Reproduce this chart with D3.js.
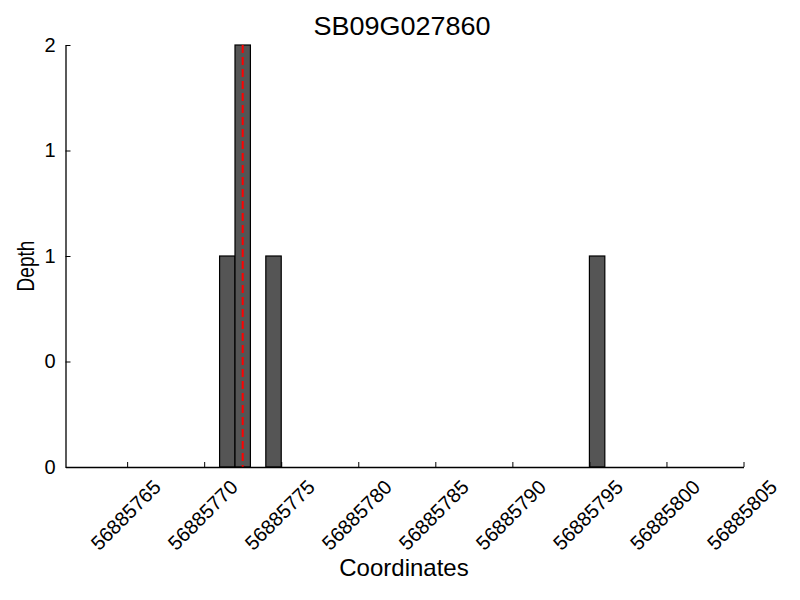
<!DOCTYPE html>
<html>
<head>
<meta charset="utf-8">
<script src="https://cdn.jsdelivr.net/npm/d3@7"></script>
<style>
  body { margin: 0; background: #fff; }
  svg { display: block; }
  text { font-family: "Liberation Sans", Arial, Helvetica, sans-serif; fill: #000; }
</style>
</head>
<body>
<svg id="chart" width="800" height="600"></svg>
<script>
// ---- data ----
const title = "SB09G027860";
const positions = [56885771, 56885772, 56885774, 56885795];
const depths = [1, 2, 1, 1];
const markerPosition = 56885772.5;
const xDomain = [56885761, 56885805];
const xTickValues = [56885765, 56885770, 56885775, 56885780, 56885785, 56885790, 56885795, 56885800, 56885805];
const yTickValues = [0, 0.5, 1, 1.5, 2];
const yTickLabels = ["0", "0", "1", "1", "2"];
const xLabel = "Coordinates";
const yLabel = "Depth";

// ---- layout ----
const svg = d3.select("#chart");
const margin = { left: 65.5, right: 800 - 743.5, top: 45, bottom: 600 - 467 };
const x = d3.scaleLinear().domain(xDomain).range([margin.left, 800 - margin.right]);
const y = d3.scaleLinear().domain([0, 2]).range([600 - margin.bottom, margin.top]);

// bars
svg.append("g").selectAll("rect")
  .data(positions.map((p, i) => ({ p, d: depths[i] })))
  .join("rect")
  .attr("x", d => x(d.p))
  .attr("width", d => x(d.p + 1) - x(d.p))
  .attr("y", d => y(d.d))
  .attr("height", d => y(0) - y(d.d))
  .attr("fill", "#555555")
  .attr("stroke", "#000")
  .attr("stroke-width", 1.2);

// marker line
svg.append("line")
  .attr("x1", x(markerPosition)).attr("x2", x(markerPosition))
  .attr("y1", y(2)).attr("y2", y(0))
  .attr("stroke", "#ff0000")
  .attr("stroke-width", 2)
  .attr("stroke-dasharray", "8,4");

// x axis (inward ticks)
const xAxis = svg.append("g")
  .attr("transform", `translate(0,${y(0)})`)
  .call(d3.axisBottom(x).tickValues(xTickValues).tickSizeInner(-5).tickSizeOuter(0).tickFormat(d3.format("d")));
xAxis.select(".domain").attr("stroke", "#000").attr("stroke-width", 1.3);
xAxis.selectAll(".tick line").attr("stroke", "#000");
xAxis.selectAll(".tick text")
  .attr("font-size", 20).attr("text-anchor", "middle").attr("dy", null).attr("y", null)
  .attr("dominant-baseline", "central")
  .attr("transform", "translate(-2,48) rotate(-45)");

// y axis
const yAxis = svg.append("g")
  .attr("transform", `translate(${x(xDomain[0])},0)`)
  .call(d3.axisLeft(y).tickValues(yTickValues).tickSizeInner(-5).tickSizeOuter(0)
    .tickFormat((d, i) => yTickLabels[i]));
yAxis.select(".domain").attr("stroke", "#000").attr("stroke-width", 1.3);
yAxis.selectAll(".tick line").attr("stroke", "#000");
yAxis.selectAll(".tick text").attr("font-size", 20).attr("x", -10);

// title & labels
svg.append("text").attr("transform", "translate(402,35) scale(1.08,1)").attr("text-anchor", "middle")
  .attr("font-size", 25).text(title);
svg.append("text").attr("x", 404).attr("y", 576).attr("text-anchor", "middle")
  .attr("font-size", 24).text(xLabel);
svg.append("text").attr("transform", "translate(34,266) scale(1.05,0.83) rotate(-90)").attr("text-anchor", "middle")
  .attr("font-size", 23).text(yLabel);
</script>
</body>
</html>
